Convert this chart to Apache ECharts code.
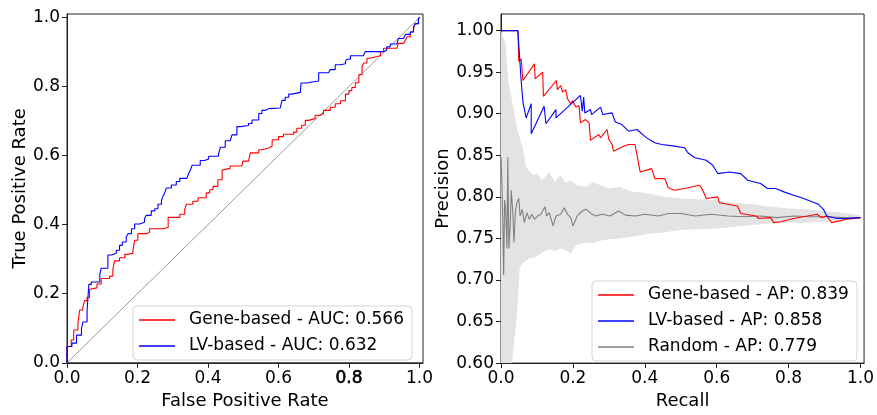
<!DOCTYPE html>
<html><head><meta charset="utf-8">
<script src="https://cdn.jsdelivr.net/npm/echarts@6/dist/echarts.min.js"></script>
<style>html,body{margin:0;padding:0;background:#fff}#c{width:877px;height:415px}</style>
</head><body><div id="c"></div>
<script>
// ---- tick labels / legend text ----
const rocTicks = [0, 0.2, 0.4, 0.6, 0.8, 1.0];
const prRecallTicks = [0, 0.2, 0.4, 0.6, 0.8, 1.0];
const prPrecisionTicks = [0.6, 0.65, 0.7, 0.75, 0.8, 0.85, 0.9, 0.95, 1.0];
const rocNames = ['Gene-based - AUC: 0.566', 'LV-based - AUC: 0.632'];
const prNames = ['Gene-based - AP: 0.839', 'LV-based - AP: 0.858', 'Random - AP: 0.779'];

// ---- ROC curves (step points) ----
const rocGeneFpr = [0,0,.012,.019,.031,.036,.045,.05,.057,.064,.069,.085,.097,.121,.13,.135,.149,.164,.173,.187,.192,.201,.225,.234,.272,.287,.32,.334,.339,.357,.372,.386,.395,.405,.414,.428,.44,.443,.463,.496,.499,.515,.52,.544,.553,.572,.582,.6,.614,.643,.652,.666,.676,.685,.704,.719,.728,.747,.761,.776,.79,.8,.808,.818,.828,.837,.842,.851,.86,.879,.889,.898,.936,.94,.955,.96,.965,.974,.983,.988,.997,1.0];
const rocGeneTpr = [0,.047,.066,.095,.115,.153,.161,.18,.189,.213,.217,.228,.244,.251,.27,.295,.304,.314,.317,.326,.355,.374,.378,.388,.392,.421,.43,.444,.459,.468,.478,.478,.492,.501,.511,.53,.558,.563,.57,.573,.584,.586,.608,.617,.622,.627,.646,.655,.662,.668,.679,.688,.702,.707,.717,.722,.731,.74,.75,.759,.778,.788,.797,.811,.835,.859,.868,.882,.887,.889,.901,.911,.915,.925,.93,.934,.944,.958,.967,.982,.996,1.0];
const rocLvFpr = [0,0,.014,.027,.041,.045,.057,.062,.069,.093,.097,.116,.126,.14,.149,.157,.168,.173,.183,.192,.206,.22,.225,.239,.249,.258,.268,.272,.277,.282,.296,.31,.32,.34,.345,.35,.355,.378,.39,.402,.43,.435,.449,.463,.468,.482,.492,.515,.525,.544,.553,.563,.572,.605,.61,.619,.629,.638,.662,.664,.681,.695,.714,.742,.747,.761,.776,.79,.794,.804,.841,.846,.898,.907,.917,.936,.94,.955,.96,.974,.983,.988,.997,1.0];
const rocLvTpr = [0,.047,.057,.08,.099,.118,.151,.227,.234,.255,.274,.312,.317,.326,.34,.35,.364,.374,.388,.402,.407,.418,.427,.44,.446,.459,.471,.482,.492,.506,.515,.525,.534,.539,.548,.558,.572,.586,.59,.598,.605,.624,.643,.646,.66,.684,.687,.693,.703,.722,.731,.736,.738,.74,.76,.769,.778,.783,.788,.81,.813,.816,.84,.84,.849,.863,.866,.873,.879,.889,.892,.901,.906,.915,.923,.925,.939,.944,.951,.958,.972,.982,.996,1.0];
const diagX = [0, 1];
const diagY = [0, 1];

// ---- Precision-Recall curves ----
const prGeneRecall = [0,.047,.0496,.056,.061,.093,.095,.116,.118,.154,.157,.166,.171,.18,.185,.194,.199,.208,.217,.221,.235,.245,.249,.272,.277,.295,.30,.309,.313,.341,.355,.373,.378,.387,.419,.428,.456,.465,.483,.511,.552,.559,.571,.603,.607,.658,.667,.709,.717,.75,.759,.778,.814,.879,.892,.906,.92,.961,1.0];
const prGenePrecision = [1,1,.963,.966,.94,.96,.942,.95,.921,.94,.929,.934,.926,.929,.918,.912,.916,.908,.91,.889,.893,.889,.868,.875,.871,.881,.869,.863,.855,.861,.863,.863,.851,.83,.834,.822,.822,.811,.808,.81,.814,.81,.798,.80,.793,.789,.78,.777,.774,.775,.769,.770,.774,.779,.775,.777,.769,.773,.775];
const prLvRecall = [0,.047,.051,.056,.061,.07,.084,.084,.12,.125,.153,.153,.221,.226,.23,.233,.249,.252,.277,.283,.309,.318,.336,.355,.378,.405,.428,.447,.483,.511,.52,.539,.571,.589,.603,.635,.667,.686,.722,.741,.764,.787,.814,.842,.883,.897,.906,.934,.961,1.0];
const prLvPrecision = [1,1,.973,.94,.914,.895,.912,.876,.909,.888,.905,.895,.922,.903,.92,.901,.905,.899,.908,.899,.901,.89,.887,.879,.881,.871,.865,.863,.861,.859,.853,.847,.844,.838,.828,.83,.828,.82,.816,.81,.81,.806,.802,.798,.791,.785,.777,.774,.774,.775];
const prRandRecall = [0,.003,.0055,.0074,.010,.013,.0165,.019,.022,.026,.0285,.033,.036,.040,.044,.0496,.053,.059,.065,.072,.079,.086,.093,.102,.111,.118,.123,.127,.134,.145,.153,.166,.176,.185,.194,.20,.212,.226,.237,.254,.263,.281,.304,.327,.346,.373,.401,.438,.465,.502,.539,.585,.631,.676,.722,.768,.814,.86,.906,.952,1.0];
const prRandPrecision = [.848,.808,.761,.706,.796,.785,.738,.848,.738,.769,.808,.781,.745,.781,.793,.798,.777,.785,.769,.781,.773,.779,.773,.777,.779,.785,.788,.777,.781,.765,.777,.779,.787,.779,.775,.765,.777,.783,.785,.779,.777,.779,.777,.783,.778,.777,.779,.777,.78,.78,.777,.779,.777,.776,.777,.775,.777,.776,.776,.775,.775];
const bandRecall = [0,.008,.013,.02,.027,.033,.04,.046,.052,.06,.07,.08,.09,.1,.115,.134,.15,.165,.18,.194,.21,.236,.255,.272,.3,.33,.364,.4,.45,.5,.55,.6,.65,.7,.75,.8,.85,.9,.95,1.0];
const bandUpper = [1.0,.99,.985,.94,.925,.91,.895,.88,.871,.86,.836,.83,.826,.828,.82,.83,.818,.826,.817,.82,.814,.812,.818,.815,.81,.812,.806,.805,.80,.798,.797,.796,.793,.791,.788,.786,.785,.783,.781,.778];
const bandLower = [.5,.5,.5,.55,.58,.61,.64,.67,.714,.72,.723,.727,.726,.729,.733,.737,.735,.738,.736,.732,.742,.745,.744,.747,.749,.75,.752,.755,.757,.76,.761,.762,.764,.766,.768,.769,.769,.770,.771,.774];

const zip = (a, b) => a.map((v, i) => [v, b[i]]);
const FONT = 'DejaVu Sans';
const FRAME = '#222';

function xAx(grid, name, ticks, digits, max, heavy) {
  return {
    type: 'value', gridIndex: grid, min: ticks[0], max: max,
    name: name, nameLocation: 'middle', nameGap: 23,
    nameTextStyle: {fontFamily: FONT, fontSize: 18, color: '#000'},
    axisLine: {show: true, onZero: false, lineStyle: {color: FRAME, width: 1}},
    axisTick: {show: true, length: 5, customValues: ticks, lineStyle: {color: FRAME, width: 1}},
    axisLabel: {
      customValues: ticks,
      formatter: v => (heavy !== undefined && Math.abs(v - heavy) < 1e-9) ? '{h|' + v.toFixed(digits) + '}' : v.toFixed(digits),
      rich: {h: {fontFamily: FONT, fontSize: 17, color: '#000', textBorderColor: '#000', textBorderWidth: 0.6}},
      fontFamily: FONT, fontSize: 17, color: '#000', margin: 7
    },
    splitLine: {show: false}
  };
}
function yAx(grid, name, ticks, digits, max, gap) {
  return {
    type: 'value', gridIndex: grid, min: ticks[0], max: max,
    name: name, nameLocation: 'middle', nameGap: gap,
    nameTextStyle: {fontFamily: FONT, fontSize: 18, color: '#000'},
    axisLine: {show: true, onZero: false, lineStyle: {color: FRAME, width: 1}},
    axisTick: {show: true, length: 5, customValues: ticks, lineStyle: {color: FRAME, width: 1}},
    axisLabel: {customValues: ticks, formatter: v => v.toFixed(digits), fontFamily: FONT, fontSize: 17, color: '#000', margin: 7},
    splitLine: {show: false}
  };
}
function legendBox(names, left, top) {
  return {
    data: names, left: left, top: top, orient: 'vertical', selectedMode: false,
    icon: 'rect', itemWidth: 36, itemHeight: 1.5, itemGap: 6,
    padding: [4, 8, 4, 6],
    backgroundColor: 'rgba(255,255,255,0.8)', borderColor: '#d5d5d5', borderWidth: 1, borderRadius: 4,
    textStyle: {fontFamily: FONT, fontSize: 17, color: '#000', lineHeight: 20, padding: [0, 0, 0, 9]}
  };
}
const lineS = (name, xi, data, color, width, extra) => Object.assign({
  name: name, type: 'line', xAxisIndex: xi, yAxisIndex: xi, data: data,
  symbol: 'none', showSymbol: false, silent: true,
  lineStyle: {color: color, width: width}, itemStyle: {color: color}
}, extra || {});

const chart = echarts.init(document.getElementById('c'), null, {renderer: 'canvas'});
chart.setOption({
  animation: false,
  backgroundColor: '#fff',
  textStyle: {fontFamily: FONT},
  grid: [
    {left: 67, top: 14, width: 356, height: 356, show: true, borderColor: FRAME, borderWidth: 1, backgroundColor: 'transparent'},
    {left: 501, top: 14, width: 366, height: 356, show: true, borderColor: FRAME, borderWidth: 1, backgroundColor: 'transparent'}
  ],
  xAxis: [
    xAx(0, 'False Positive Rate', rocTicks, 1, 1.01, 0.8),
    xAx(1, 'Recall', prRecallTicks, 1, 1.01)
  ],
  yAxis: [
    yAx(0, 'True Positive Rate', rocTicks, 1, 1.01, 37),
    yAx(1, 'Precision', prPrecisionTicks, 2, 1.02, 48)
  ],
  legend: [legendBox(rocNames, 133, 306), legendBox(prNames, 592, 281)],
  series: [
    lineS('chance', 0, zip(diagX, diagY), '#707070', 0.7),
    lineS(rocNames[0], 0, zip(rocGeneFpr, rocGeneTpr), '#ff0000', 1.1, {step: 'end'}),
    lineS(rocNames[1], 0, zip(rocLvFpr, rocLvTpr), '#0000ff', 1.1, {step: 'end'}),
    {
      type: 'custom', name: 'band', xAxisIndex: 1, yAxisIndex: 1, clip: true, silent: true, z: 1,
      data: [[bandRecall[0], bandUpper[0]]],
      renderItem: (params, api) => {
        const pts = bandRecall.map((r, i) => api.coord([r, bandUpper[i]]));
        for (let i = bandRecall.length - 1; i >= 0; i--) pts.push(api.coord([bandRecall[i], bandLower[i]]));
        return {type: 'polygon', shape: {points: pts}, style: {fill: '#e3e3e3', stroke: null}};
      }
    },
    lineS(prNames[2], 1, zip(prRandRecall, prRandPrecision), '#808080', 1.1),
    lineS(prNames[0], 1, zip(prGeneRecall, prGenePrecision), '#ff0000', 1.1),
    lineS(prNames[1], 1, zip(prLvRecall, prLvPrecision), '#0000ff', 1.1)
  ]
});
</script></body></html>
